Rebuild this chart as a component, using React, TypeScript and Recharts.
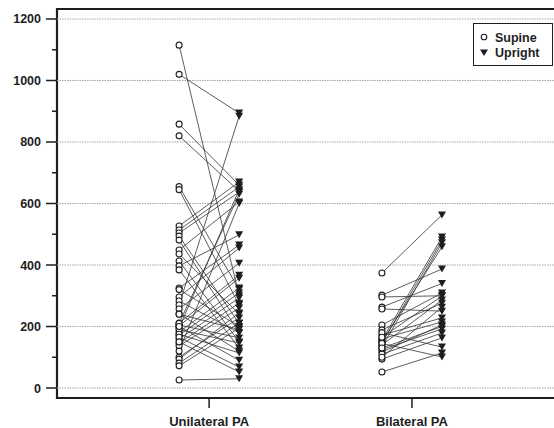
import React from 'react'
import { ComposedChart, Scatter, XAxis, YAxis, ReferenceLine, ReferenceArea } from 'recharts'

// paired measurements, supine -> upright
const uniSupine = [
  1115, 1020, 858, 820, 655, 645, 527, 514, 504, 494, 481, 449, 436, 413, 397, 384, 325, 296, 283, 270, 257, 241,
  211, 202, 195, 182, 172, 159, 146, 137, 101, 94, 81, 72, 26, 205, 190, 175, 165, 150, 210, 120, 320, 240, 200
]
const uniUpright = [
  300, 894, 660, 640, 320, 270, 670, 654, 637, 210, 180, 605, 240, 150, 498, 130, 465, 455, 180, 884, 406, 120,
  367, 357, 645, 325, 309, 293, 276, 260, 228, 244, 211, 195, 30, 163, 146, 114, 68, 52, 630, 600, 200, 190, 90
]
const biSupine = [374, 302, 296, 263, 257, 205, 189, 172, 156, 146, 133, 117, 94, 52, 150, 140, 160, 125, 110, 180, 145, 100, 130, 165]
const biUpright = [563, 387, 300, 340, 250, 309, 276, 228, 491, 481, 472, 205, 163, 114, 459, 286, 215, 192, 179, 133, 101, 263, 200, 299]

const groups = ['Unilateral PA', 'Bilateral PA']
const groupPos = [1, 2]
const yTicks = [0, 100, 200, 300, 400, 500, 600, 700, 800, 900, 1000, 1100, 1200]
const gridValues = [0, 200, 400, 600, 800, 1000, 1200]

const OFFSET = 0.148
const X_DOMAIN: [number, number] = [0.25, 2.72]
const Y_DOMAIN: [number, number] = [-32.5, 1232.5]
const INK = '#1e1e1e'

const pairs = [
  ...uniSupine.map((s, i) => ({ g: groupPos[0], s, u: uniUpright[i] })),
  ...biSupine.map((s, i) => ({ g: groupPos[1], s, u: biUpright[i] }))
]
const supinePts = pairs.map(p => ({ x: p.g - OFFSET, y: p.s }))
const uprightPts = pairs.map(p => ({ x: p.g + OFFSET, y: p.u }))

const Circle = (p: any) => <circle cx={p.cx} cy={p.cy} r={3} fill='#fff' stroke={INK} strokeWidth={1.1} />
const Tri = (p: any) => (
  <polygon points={`${p.cx - 4},${p.cy - 3.5} ${p.cx + 4},${p.cy - 3.5} ${p.cx},${p.cy + 3.5}`} fill={INK} />
)

const YTick = ({ x, y, payload }: any) => {
  const major = payload.value % 200 === 0
  return (
    <g>
      <line x1={x - (major ? 11 : 5)} x2={x} y1={y} y2={y} stroke={INK} strokeWidth={1.5} />
      {major && (
        <text x={x - 16} y={y + 4.5} textAnchor='end' fontSize={12.5} fontWeight='bold' fill={INK}>
          {payload.value}
        </text>
      )}
    </g>
  )
}

const XTick = ({ x, y, payload }: any) => (
  <g>
    <line x1={x} x2={x} y1={y} y2={y + 10} stroke={INK} strokeWidth={1.5} />
    <text x={x} y={y + 28} textAnchor='middle' fontSize={13} fontWeight='bold' fill={INK}>
      {groups[groupPos.indexOf(payload.value)]}
    </text>
  </g>
)

export default function App() {
  return (
    <div
      style={{
        position: 'absolute',
        left: 0,
        top: 0,
        width: 554,
        height: 428,
        overflow: 'hidden',
        background: '#fff',
        fontFamily: '"Liberation Sans", Arial, sans-serif'
      }}
    >
      <ComposedChart width={558} height={428} margin={{ top: 9, right: 0, bottom: 0, left: 0 }}>
        <XAxis
          dataKey='x'
          type='number'
          domain={X_DOMAIN}
          ticks={groupPos}
          allowDataOverflow
          axisLine={false}
          tickLine={false}
          tickSize={0}
          tickMargin={0}
          height={30}
          tick={<XTick />}
        />
        <YAxis
          dataKey='y'
          type='number'
          domain={Y_DOMAIN}
          ticks={yTicks}
          allowDataOverflow
          axisLine={false}
          tickLine={false}
          tickSize={0}
          tickMargin={0}
          width={57}
          interval={0}
          tick={<YTick />}
        />
        {gridValues.map(v => (
          <ReferenceLine key={v} y={v} stroke='#a8a8a8' strokeDasharray='1.5 1' strokeWidth={1} />
        ))}
        {pairs.map((p, i) => (
          <Scatter
            key={i}
            data={[
              { x: p.g - OFFSET, y: p.s },
              { x: p.g + OFFSET, y: p.u }
            ]}
            line={{ stroke: '#333', strokeWidth: 0.8 }}
            shape={() => <g />}
            isAnimationActive={false}
          />
        ))}
        <Scatter data={supinePts} shape={Circle} isAnimationActive={false} />
        <Scatter data={uprightPts} shape={Tri} isAnimationActive={false} />
        <ReferenceArea
          x1={X_DOMAIN[0]}
          x2={X_DOMAIN[1]}
          y1={Y_DOMAIN[0]}
          y2={Y_DOMAIN[1]}
          fill='none'
          fillOpacity={0}
          stroke={INK}
          strokeWidth={2.2}
        />
      </ComposedChart>
      <div
        style={{
          position: 'absolute',
          left: 473,
          top: 23,
          width: 78,
          height: 41,
          border: `1.5px solid ${INK}`,
          background: '#fff',
          fontSize: 12.5,
          fontWeight: 'bold',
          color: INK
        }}
      >
        <svg width={78} height={41} style={{ position: 'absolute', left: 0, top: 0 }}>
          <circle cx={10} cy={13} r={2.8} fill='#fff' stroke={INK} strokeWidth={1.1} />
          <polygon points='6,25.5 14,25.5 10,32' fill={INK} />
          <text x={21} y={17.5} fontSize={12.5} fontWeight='bold' fill={INK}>
            Supine
          </text>
          <text x={21} y={33} fontSize={12.5} fontWeight='bold' fill={INK}>
            Upright
          </text>
        </svg>
      </div>
    </div>
  )
}
